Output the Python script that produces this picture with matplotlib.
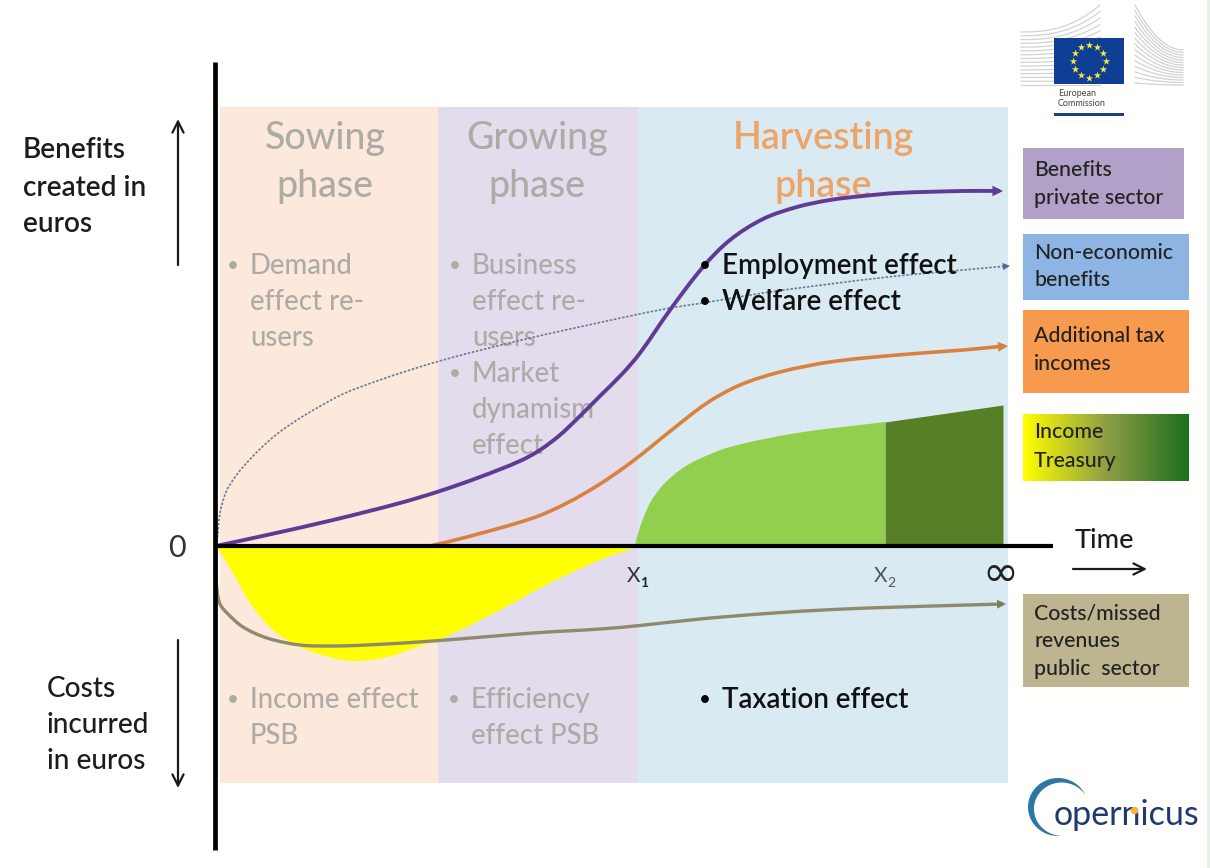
import numpy as np
import matplotlib.pyplot as plt
from matplotlib.colors import LinearSegmentedColormap
from matplotlib.patches import Rectangle, Polygon, PathPatch
from matplotlib.path import Path

plt.rcParams['font.family'] = ['Lato', 'DejaVu Sans']

# time runs right from the origin, euros up (benefits) and down (costs)
private_t = [0, 51, 117, 184, 224, 264, 304, 324, 344, 364, 384, 407, 424, 454, 487, 514, 547, 581, 614, 647, 681, 747, 784]
private_y = [0, 11, 26, 43, 55, 69, 85, 96, 111, 130, 150, 173, 193, 236, 279, 306, 327, 339, 346, 350, 353, 355, 355]

tax_t = [214, 251, 317, 351, 384, 417, 457, 491, 524, 564, 614, 681, 747, 789]
tax_y = [0, 9, 28, 43, 62, 85, 117, 143, 161, 174, 184, 191, 196, 200]

noneco_t = [0, 1, 4, 10, 17, 27, 44, 61, 78, 94, 127, 161, 194, 227, 277, 327, 377, 414, 454, 487, 547, 614, 681, 747, 791]
noneco_y = [0, 3, 33, 54, 66, 79, 97, 112, 124, 134, 152, 165, 176, 186, 199, 211, 222, 230, 238, 243, 253, 262, 270, 276, 280]

cost_t = [0, 0, 1, 4, 11, 27, 51, 84, 117, 151, 217, 317, 384, 424, 484, 551, 617, 684, 787]
cost_y = [0, -20, -44, -58, -67, -81, -92, -99, -100, -99, -95, -87, -83, -79.5, -73, -67.5, -63.5, -61, -58]

deficit_t = [1, 17, 34, 57, 84, 117, 141, 171, 201, 234, 284, 334, 384, 421]
deficit_y = [-1, -27, -57, -84, -101, -112, -115, -111, -101, -89, -64, -37, -14, -1]

treasury_t = [419, 424, 434, 447, 464, 481, 514, 581, 669]
treasury_y = [1, 19, 43, 61, 76, 86, 99, 113, 124]
treasury_late_t = [669, 787]
treasury_late_y = [124, 141]

phases = ['Sowing', 'Growing', 'Harvesting']
phase_edges = [4, 222, 422, 792]
phase_colors = ['#fce9dc', '#e2dcec', '#daeaf3']

legend_labels = [['Benefits', 'private sector'], ['Non-economic', 'benefits'], ['Additional tax', 'incomes'],
                 ['Income', 'Treasury'], ['Costs/missed', 'revenues', 'public  sector']]

fig = plt.figure(figsize=(12.1, 8.68), dpi=100, facecolor='#fffffd')
ax = fig.add_axes([0, 0, 1, 1])
ax.axis('off')


def T(px):
    return px - 216


def E(py):
    return 546 - py


def put(px, py, s, size, color, **kw):
    ax.text(T(px), E(py + 2), s, fontsize=size, color=color, va='center', **kw)


def smooth_path(t, y, closed=False):
    # bezier segments through the points, tangent taken from the neighbours
    p = np.column_stack([t, y]).astype(float)
    tang = np.zeros_like(p)
    tang[1:-1] = p[2:] - p[:-2]
    tang[0] = p[1] - p[0]
    tang[-1] = p[-1] - p[-2]
    tang /= np.hypot(tang[:, 0], tang[:, 1])[:, None]
    verts = [p[0]]
    codes = [Path.MOVETO]
    for i in range(len(p) - 1):
        d = np.hypot(*(p[i + 1] - p[i])) / 3
        verts += [p[i] + tang[i] * d, p[i + 1] - tang[i + 1] * d, p[i + 1]]
        codes += [Path.CURVE4] * 3
    if closed:
        verts += [(p[-1][0], 0), (p[0][0], 0), p[0]]
        codes += [Path.LINETO, Path.LINETO, Path.CLOSEPOLY]
    return Path(verts, codes)


# phase bands
for i in range(3):
    ax.add_patch(Rectangle((phase_edges[i], E(783)), phase_edges[i + 1] - phase_edges[i], E(107) - E(783),
                           fc=phase_colors[i], ec='none', zorder=1))
ax.add_patch(Rectangle((T(1207), E(868)), 3, 868, fc='#e4f2ee', ec='none', zorder=1))

# phase titles and effects
grey = '#aeaba7'
put(325, 137, phases[0], 27, grey, ha='center', zorder=2, weight='medium')
put(325, 185, 'phase', 27, grey, ha='center', zorder=2, weight='medium')
put(537, 137, phases[1], 27, grey, ha='center', zorder=2, weight='medium')
put(537, 185, 'phase', 27, grey, ha='center', zorder=2, weight='medium')
put(823, 137, phases[2], 27, '#eda468', ha='center', zorder=2, weight='semibold')
put(823, 185, 'phase', 27, '#eda468', ha='center', zorder=2, weight='semibold')

for px, py, lines in [(250, 264, ['Demand', 'effect re-', 'users']),
                      (472, 264, ['Business', 'effect re-', 'users']),
                      (472, 372, ['Market', 'dynamism', 'effect']),
                      (250, 698, ['Income effect', 'PSB']),
                      (471, 698, ['Efficiency', 'effect PSB'])]:
    put(px - 17, py, '\u2022', 15, grey, ha='center', zorder=2)
    for k, line in enumerate(lines):
        put(px, py + 36 * k, line, 19.8, grey, zorder=2, weight='medium')

# fills
ax.add_patch(PathPatch(smooth_path(deficit_t, deficit_y, closed=True), fc='#ffff00', ec='none', zorder=3))
ax.add_patch(PathPatch(smooth_path(treasury_t, treasury_y, closed=True), fc='#92cf4f', ec='none', zorder=3))
ax.fill_between(treasury_late_t, treasury_late_y, 0, color='#567f26', lw=0, zorder=3)

# curves
for t, y, c, lw, ls in [(noneco_t, noneco_y, '#6c7a92', 1.2, (0, (1.5, 1))),
                        (cost_t, cost_y, '#8f8a6c', 2.4, '-'),
                        (tax_t, tax_y, '#d9813f', 2.6, '-'),
                        (private_t, private_y, '#5f3b96', 2.8, '-')]:
    ax.add_patch(PathPatch(smooth_path(t, y), fc='none', ec=c, lw=lw, ls=ls, zorder=4))

# arrow heads on the curve ends
for t, y, c, ms in [(private_t, private_y, '#5f3b96', 19), (tax_t, tax_y, '#d9813f', 18),
                    (noneco_t, noneco_y, '#4f6a94', 13), (cost_t, cost_y, '#7f7b60', 16)]:
    ax.annotate('', xy=(t[-1] + 3, y[-1]), xytext=(t[-1] - 10, y[-1] - (y[-1] - y[-2]) * 10 / (t[-1] - t[-2])),
                arrowprops=dict(arrowstyle='-|>', color=c, lw=0, mutation_scale=ms, shrinkA=0, shrinkB=0), zorder=5)

# axes
ax.plot([T(215), T(215)], [E(62), E(850)], color='black', lw=3.4, solid_capstyle='butt', zorder=6)
ax.plot([T(216), T(1053)], [0, 0], color='black', lw=3, solid_capstyle='butt', zorder=6)


def thin_arrow(px0, py0, px1, py1):
    ax.annotate('', xy=(T(px1), E(py1)), xytext=(T(px0), E(py0)),
                arrowprops=dict(arrowstyle='->', color='#1a1a1a', lw=1.6, mutation_scale=20, shrinkA=0, shrinkB=0))


thin_arrow(178, 265, 178, 119)
thin_arrow(178, 640, 178, 788)
thin_arrow(1073, 569, 1147, 569)

# axis labels
dark = '#1c1c1c'
for py, s in [(148, 'Benefits'), (186, 'created in'), (222, 'euros')]:
    put(23, py, s, 20.2, dark, weight='semibold')
for py, s in [(687, 'Costs'), (723, 'incurred'), (759, 'in euros')]:
    put(47, py, s, 20.2, dark, weight='medium')
put(177, 546, '0', 22, '#333333', ha='center')
put(1075, 539, 'Time', 19.5, dark, weight='medium')
put(627, 574, 'X', 15, '#333333')
put(640, 581, '1', 10, '#222222', weight='bold')
put(874, 574, 'X', 15, '#555555')
put(887, 581, '2', 10, '#555555')
put(1000, 572, '\u221e', 31, '#222222', ha='center', family=['DejaVu Sans'])

# effects that are active in the harvesting phase
for py, s in [(264, 'Employment effect'), (300, 'Welfare effect'), (698, 'Taxation effect')]:
    put(705, py, '\u2022', 15, 'black', ha='center', zorder=7)
    put(722, py, s, 20, '#111111', zorder=7, weight='semibold')

# legend boxes
boxes = [(1023, 1184, 148, 219, '#b1a0c7'), (1023, 1189, 234, 300, '#8eb4e3'), (1023, 1189, 310, 393, '#f79a4e'),
         (1023, 1189, 414, 481, None), (1023, 1189, 594, 687, '#bdb58f')]
text_rows = [(169, 197), (252, 279), (335, 363), (431, 460), (612, 640, 668)]
yg = LinearSegmentedColormap.from_list('yg', ['#ffff00', '#8f9f45', '#1c6f1e'])
for (x0, x1, y0, y1, c), labels, rows in zip(boxes, legend_labels, text_rows):
    if c is None:
        ax.imshow(np.linspace(0, 1, 256).reshape(1, -1), cmap=yg, aspect='auto',
                  extent=(T(x0), T(x1), E(y1), E(y0)), zorder=2)
    else:
        ax.add_patch(Rectangle((T(x0), E(y1)), x1 - x0, y1 - y0, fc=c, ec='none', zorder=2))
    for py, s in zip(rows, labels):
        put(1034, py - 1, s, 15.3, '#222222', zorder=3, weight='medium')

# Commission logo: building wings, flag, name
u = np.linspace(0, 1, 30)
for k in np.linspace(0, 1, 15):
    ax.plot(T(1021 + 79 * u), E(85 - 53 * k - 27 * k ** 1.5 * u ** 2.5), color='#d2d2d2', lw=0.9, zorder=2)
    ax.plot(T(1135 + 48 * u), E(83 - 78 * k + (2 + 43 * k) * (1 - (1 - u) ** 2)), color='#d2d2d2', lw=0.9, zorder=2)
ax.add_patch(Rectangle((T(1054), E(84)), 70, 46, fc='#0f3f94', ec='none', zorder=3))
star_a = np.linspace(0, 2 * np.pi, 12, endpoint=False)
ax.scatter(T(1089 + 16.5 * np.cos(star_a)), E(61 + 16.5 * np.sin(star_a)), marker='*', s=32, color='#f5e93a', lw=0, zorder=4)
put(1058, 91, 'European', 6.5, '#444444')
put(1058, 102, 'Commission', 6.5, '#444444')
ax.add_patch(Rectangle((T(1054), E(116)), 70, 3, fc='#1f3f7f', ec='none', zorder=3))

# Copernicus logo: crescent and name
th = np.linspace(np.radians(25), np.radians(275), 80)
thick = 6.5 * np.sin(np.pi * (th - th[0]) / (th[-1] - th[0]))
outer = np.c_[T(1058 + 30 * np.cos(th)), E(807 - 29 * np.sin(th))]
inner = np.c_[T(1058 + (30 - thick) * np.cos(th)), E(807 - (29 - thick) * np.sin(th))][::-1]
ax.add_patch(Polygon(np.vstack([outer, inner]), fc='#2d77a6', ec='none', zorder=3))
put(1054, 813, 'opernicus', 24.5, '#1f3a70', zorder=4)
ax.scatter([T(1134)], [E(810)], s=30, color='#f3b33d', lw=0, zorder=5)

ax.set_xlim(-216, 994)
ax.set_ylim(-322, 546)
fig.savefig('out.png', dpi=100, facecolor=fig.get_facecolor())
